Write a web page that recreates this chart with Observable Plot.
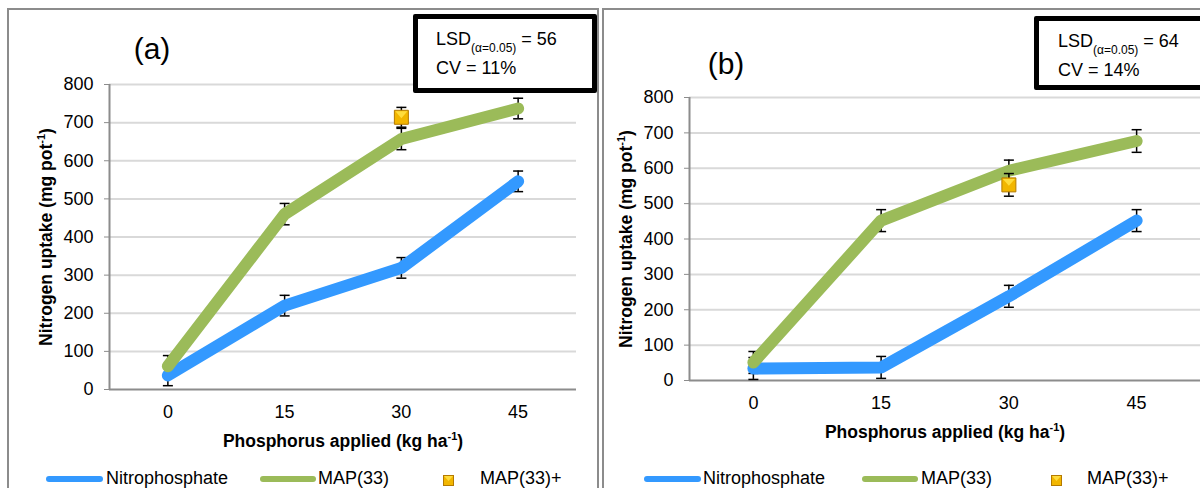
<!DOCTYPE html>
<html>
<head>
<meta charset="utf-8">
<script src="https://cdn.jsdelivr.net/npm/d3@7"></script>
<script src="https://cdn.jsdelivr.net/npm/@observablehq/plot@0.6"></script>
<style>
  html, body { margin: 0; padding: 0; background: #fff; }
  body { font-family: "Liberation Sans", Arial, sans-serif; color: #000; }
  #page { position: relative; width: 1200px; height: 488px; overflow: hidden; background: #fff; }
  .frame { position: absolute; box-sizing: border-box; border: 2px solid #8c8c8c; }
  .chart { position: absolute; top: 0; }
  .tag { position: absolute; font-size: 30px; line-height: 30px; width: 60px; text-align: center; }
  .statbox { position: absolute; box-sizing: border-box; border: 5px solid #000; background: #fff; border-radius: 2px; }
  .stat { position: absolute; font-size: 18px; line-height: 18px; white-space: nowrap; }
  .stat .sub { font-size: 12px; position: relative; top: 7px; }
  .legend { position: absolute; top: 466px; height: 22px; }
  .leg-text { position: absolute; font-size: 18px; line-height: 18px; top: 3px; white-space: nowrap; }
  .leg-line { position: absolute; height: 6px; border-radius: 3px; top: 10px; }
  .leg-mark { position: absolute; top: 6px; }
</style>
</head>
<body>
<div id="page"></div>
<script>
// Phosphorus rates (kg ha-1) and the y-axis ticks shared by both panels
const phosphorus = [0, 15, 30, 45];
const mapPlusRate = [30];
const yTicks = [0, 100, 200, 300, 400, 500, 600, 700, 800];

const seriesNames = ["Nitrophosphate", "MAP(33)", "MAP(33)+"];
const seriesColors = ["#3399ff", "#9bbb59", "#f2b600"];

// Panel (a): nitrogen uptake (mg pot-1) and error-bar half widths
const nitroA = [37, 220, 319, 546];
const nitroErrA = [27, 27, 27, 27];
const mapA = [61, 460, 657, 737];
const mapErrA = [28, 28, 28, 27];
const mapPlusA = [714];
const mapPlusErrA = [26];

// Panel (b)
const nitroB = [34, 37, 238, 452];
const nitroErrB = [31, 31, 31, 31];
const mapB = [51, 452, 593, 677];
const mapErrB = [31, 31, 30, 32];
const mapPlusB = [553];
const mapPlusErrB = [32];

// Statistics shown in each panel's box
const panelTags = ["(a)", "(b)"];
const lsdValues = [56, 64];
const cvValues = [11, 14];

const xDomain = [-7.5, 52.5];

// Horizontal whisker cap and the beveled square marker
const capSymbol = {
  draw(ctx, size) { const r = Math.sqrt(size / Math.PI); ctx.moveTo(-r, 0); ctx.lineTo(r, 0); }
};
const squareSymbol = {
  draw(ctx, size) { const r = Math.sqrt(size / Math.PI); ctx.rect(-r, -r, 2 * r, 2 * r); }
};
const bevelSymbol = {
  draw(ctx, size) {
    const r = Math.sqrt(size / Math.PI);
    ctx.moveTo(-r, -r); ctx.lineTo(r, -r); ctx.lineTo(0, r * 0.15); ctx.closePath();
  }
};

function rows(name, xs, values, errs) {
  return values.map((v, i) => ({p: xs[i], v, e: errs[i], series: name}));
}

function errorMarks(data) {
  return [
    Plot.ruleX(data, {x: "p", y1: d => d.v - d.e, y2: d => d.v + d.e, stroke: "#000", strokeWidth: 1.5}),
    Plot.dot(data, {x: "p", y: d => d.v + d.e, symbol: capSymbol, r: 5, stroke: "#000", strokeWidth: 1.5, fill: "none"}),
    Plot.dot(data, {x: "p", y: d => d.v - d.e, symbol: capSymbol, r: 5, stroke: "#000", strokeWidth: 1.5, fill: "none"})
  ];
}

function supText(svg, selector, base, sup, tail, fontSize) {
  const t = svg.querySelector(selector);
  if (!t) return;
  t.textContent = "";
  t.setAttribute("font-weight", "bold");
  t.setAttribute("font-size", fontSize);
  const ns = "http://www.w3.org/2000/svg";
  const a = document.createElementNS(ns, "tspan"); a.textContent = base; t.appendChild(a);
  const b = document.createElementNS(ns, "tspan"); b.textContent = sup;
  b.setAttribute("font-size", 11); b.setAttribute("dy", -7); t.appendChild(b);
  const c = document.createElementNS(ns, "tspan"); c.textContent = tail; c.setAttribute("dy", 7); t.appendChild(c);
}

function drawPanel(cfg) {
  const nitro = rows(seriesNames[0], phosphorus, cfg.nitro, cfg.nitroErr);
  const map = rows(seriesNames[1], phosphorus, cfg.map, cfg.mapErr);
  const plus = rows(seriesNames[2], mapPlusRate, cfg.plus, cfg.plusErr);

  const svg = Plot.plot({
    width: 600,
    height: 466,
    marginLeft: cfg.marginLeft,
    marginRight: cfg.marginRight,
    marginTop: cfg.marginTop,
    marginBottom: cfg.marginBottom,
    style: {background: "none", fontFamily: "Liberation Sans, Arial, sans-serif", fontSize: "18px", color: "#000", overflow: "visible"},
    x: {domain: xDomain},
    y: {domain: [0, 800]},
    marks: [
      Plot.ruleY(yTicks.slice(1), {stroke: "#d9d9d9", strokeWidth: 2}),
      Plot.ruleY([0], {stroke: "#8c8c8c", strokeWidth: 2}),
      Plot.ruleX([xDomain[0]], {y1: 0, y2: 800, stroke: "#8c8c8c", strokeWidth: 2}),
      Plot.axisY({ticks: yTicks, tickSize: 5, tickPadding: 11, stroke: "#8c8c8c", fill: "#000",
        label: "Nitrogen uptake (mg pot-1)", labelAnchor: "center", labelOffset: 70}),
      Plot.axisX({ticks: phosphorus, tickSize: 0, tickPadding: 16, fill: "#000",
        label: "Phosphorus applied (kg ha-1)", labelAnchor: "center", labelOffset: 57}),
      ...errorMarks(nitro),
      ...errorMarks(map),
      Plot.line(nitro, {x: "p", y: "v", stroke: seriesColors[0], strokeWidth: 12, strokeLinecap: "round", strokeLinejoin: "round"}),
      Plot.line(map, {x: "p", y: "v", stroke: seriesColors[1], strokeWidth: 12, strokeLinecap: "round", strokeLinejoin: "round"}),
      ...errorMarks(plus),
      Plot.dot(plus, {x: "p", y: "v", symbol: squareSymbol, r: 7, fill: seriesColors[2], stroke: "#b47a00", strokeWidth: 1}),
      Plot.dot(plus, {x: "p", y: "v", symbol: bevelSymbol, r: 6, fill: "#ffdc3c", stroke: "none"})
    ]
  });
  supText(svg, '[aria-label="y-axis label"] text', "Nitrogen uptake (mg pot", "-1", ")", 17.5);
  supText(svg, '[aria-label="x-axis label"] text', "Phosphorus applied (kg ha", "-1", ")", 17.5);
  svg.classList.add("chart");
  svg.style.left = cfg.left + "px";
  return svg;
}

const page = document.getElementById("page");

function el(cls, style, html) {
  const d = document.createElement("div");
  d.className = cls;
  Object.assign(d.style, style);
  if (html != null) d.innerHTML = html;
  return d;
}

const panels = [
  {left: 0, marginLeft: 109, marginRight: 24, marginTop: 84, marginBottom: 77,
   nitro: nitroA, nitroErr: nitroErrA, map: mapA, mapErr: mapErrA, plus: mapPlusA, plusErr: mapPlusErrA,
   frame: {left: "7px", top: "8px", width: "592px", height: "520px"},
   tag: {left: "122px", top: "34px"},
   box: {left: "413px", top: "14px", width: "184px", height: "79px"},
   line1: {left: "436px", top: "30px"}, line2: {left: "436px", top: "59px"},
   legend: [46, 106, 260, 318, 443, 480]},
  {left: 600, marginLeft: 89, marginRight: 0, marginTop: 97, marginBottom: 86,
   nitro: nitroB, nitroErr: nitroErrB, map: mapB, mapErr: mapErrB, plus: mapPlusB, plusErr: mapPlusErrB,
   frame: {left: "602px", top: "8px", width: "700px", height: "520px"},
   tag: {left: "696px", top: "49px"},
   box: {left: "1034px", top: "16px", width: "200px", height: "74px"},
   line1: {left: "1058px", top: "32px"}, line2: {left: "1058px", top: "61px"},
   legend: [644, 703, 862, 921, 1051, 1087]}
];

panels.forEach((cfg, i) => {
  page.appendChild(el("frame", cfg.frame));
  page.appendChild(drawPanel(cfg));
  page.appendChild(el("tag", cfg.tag, panelTags[i]));
  page.appendChild(el("statbox", cfg.box));
  page.appendChild(el("stat", cfg.line1, `LSD<span class="sub">(α=0.05)</span> = ${lsdValues[i]}`));
  page.appendChild(el("stat", cfg.line2, `CV = ${cvValues[i]}%`));

  // Legend row below the chart
  const [l1, t1, l2, t2, m3, t3] = cfg.legend;
  const leg = el("legend", {left: "0px", width: "1200px"});
  leg.appendChild(el("leg-line", {left: l1 + "px", width: "57px", background: seriesColors[0]}));
  leg.appendChild(el("leg-text", {left: t1 + "px"}, seriesNames[0]));
  leg.appendChild(el("leg-line", {left: l2 + "px", width: "56px", background: seriesColors[1]}));
  leg.appendChild(el("leg-text", {left: t2 + "px"}, seriesNames[1]));
  const mark = el("leg-mark", {left: m3 + "px"},
    `<svg width="11" height="11" viewBox="0 0 11 11"><rect x="0.5" y="0.5" width="10" height="10" fill="${seriesColors[2]}" stroke="#b47a00"/><path d="M1 1 L10 1 L5.5 6 Z" fill="#ffdc3c"/></svg>`);
  leg.appendChild(mark);
  leg.appendChild(el("leg-text", {left: t3 + "px"}, seriesNames[2]));
  page.appendChild(leg);
});
</script>
</body>
</html>
